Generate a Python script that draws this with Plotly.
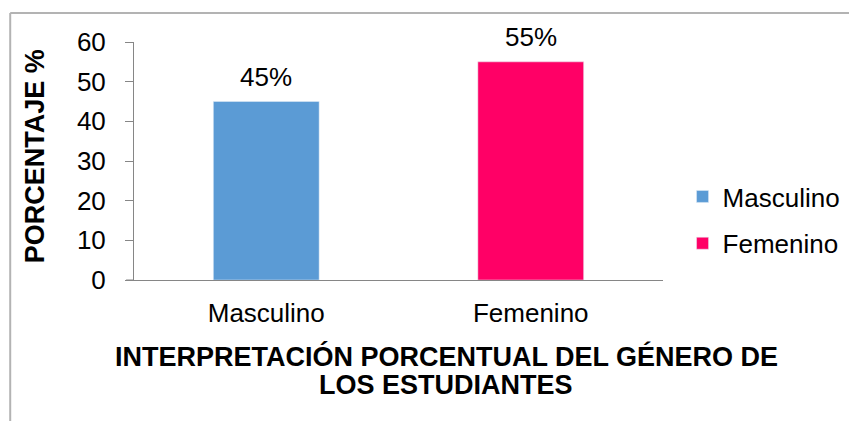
import plotly.graph_objects as go

categories = ['Masculino', 'Femenino']
values = [45, 55]
colors = ['#5B9BD5', '#FF0066']
y_ticks = [0, 10, 20, 30, 40, 50, 60]
x_title_lines = ['INTERPRETACIÓN PORCENTUAL DEL GÉNERO DE', 'LOS ESTUDIANTES']

FONT = 'Liberation Sans, Arial, sans-serif'

fig = go.Figure()
for cat, val, col in zip(categories, values, colors):
    fig.add_trace(go.Bar(
        x=[cat], y=[val], name=cat, marker_color=col, width=0.4,
        legendgroup=cat, cliponaxis=False,
    ))

# value labels above the bars
for cat, val in zip(categories, values):
    fig.add_annotation(x=cat, y=val, text=f'{val}%', showarrow=False,
                       yanchor='middle', yshift=25, font=dict(size=26, color='black'))

# axis titles
fig.add_annotation(xref='paper', yref='paper', x=-0.187, y=0.52, text='<b>PORCENTAJE %</b>',
                   textangle=-90, showarrow=False, xanchor='center', yanchor='middle',
                   font=dict(size=27, color='black'))
for line, ypos in zip(x_title_lines, [-0.3235, -0.441]):
    fig.add_annotation(xref='paper', yref='paper', x=0.5906, y=ypos, xanchor='center',
                       yanchor='middle', text=f'<b>{line}</b>', showarrow=False,
                       font=dict(size=27, color='black'))

# outer frame (top and left edges) and x axis extension
frame = dict(color='#b3b3b3', width=2)
fig.add_shape(type='line', xref='paper', yref='paper', x0=-0.234, x1=1.37, y0=1.122, y1=1.122, line=frame)
fig.add_shape(type='line', xref='paper', yref='paper', x0=-0.234, x1=-0.234, y0=1.122, y1=-0.6, line=frame)
fig.add_shape(type='line', xref='paper', yref='paper', x0=-0.015, x1=0, y0=0, y1=0,
              line=dict(color='#868686', width=1))

# page has an 8px body margin, so the figure is 8px smaller than the window
fig.update_layout(
    width=849, height=413,
    margin=dict(l=126, r=193, t=34, b=141),
    paper_bgcolor='white', plot_bgcolor='white',
    font=dict(family=FONT, size=26, color='black'),
    barmode='overlay',
    showlegend=True,
    legend=dict(x=1.035, y=0.252, xanchor='left', yanchor='middle',
                font=dict(size=26), tracegroupgap=10, itemwidth=30),
    xaxis=dict(showline=True, linecolor='#868686', linewidth=1, ticks='',
               ticklabelstandoff=10, showgrid=False, zeroline=False),
    yaxis=dict(range=[0, 60], tickvals=y_ticks, showline=True, linecolor='#868686',
               linewidth=1, ticks='outside', ticklen=8, tickcolor='#868686',
               ticklabelstandoff=14, showgrid=False, zeroline=False),
)

fig.write_html('out.html')
